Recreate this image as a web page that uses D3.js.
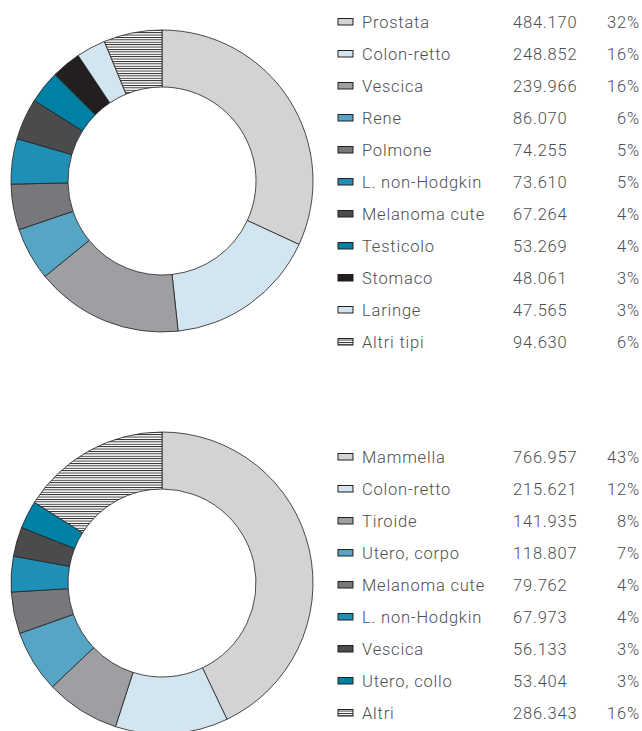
<!DOCTYPE html>
<meta charset="utf-8">
<style>
body {
  margin: 0;
  background-color: #ffffff;
}
.legend text {
  font-family: Roboto, "Open Sans", sans-serif;
  font-size: 16.5px;
  font-weight: 300;
  fill: #4d4e50;
  letter-spacing: 0.8px;
}
.slice {
  stroke: #231f20;
  stroke-width: 0.8px;
}
</style>
<svg width="642" height="731"></svg>
<script src="https://d3js.org/d3.v7.min.js"></script>
<script>
// uomini
var menLabels = ["Prostata", "Colon-retto", "Vescica", "Rene", "Polmone", "L. non-Hodgkin",
                 "Melanoma cute", "Testicolo", "Stomaco", "Laringe", "Altri tipi"];
var menValues = [484170, 248852, 239966, 86070, 74255, 73610, 67264, 53269, 48061, 47565, 94630];
var menValueText = ["484.170", "248.852", "239.966", "86.070", "74.255", "73.610",
                    "67.264", "53.269", "48.061", "47.565", "94.630"];
var menPct = ["32%", "16%", "16%", "6%", "5%", "5%", "4%", "4%", "3%", "3%", "6%"];
var menColors = ["#d1d3d4", "#d2e5f0", "#9d9fa2", "#56a5c5", "#77787b", "#1f8fb6",
                 "#4a4b4d", "#0080a5", "#231f20", "#d2e5f0", "url(#hatch)"];

// donne
var womenLabels = ["Mammella", "Colon-retto", "Tiroide", "Utero, corpo", "Melanoma cute",
                   "L. non-Hodgkin", "Vescica", "Utero, collo", "Altri"];
var womenValues = [766957, 215621, 141935, 118807, 79762, 67973, 56133, 53404, 286343];
var womenValueText = ["766.957", "215.621", "141.935", "118.807", "79.762",
                      "67.973", "56.133", "53.404", "286.343"];
var womenPct = ["43%", "12%", "8%", "7%", "4%", "4%", "3%", "3%", "16%"];
var womenColors = ["#d1d3d4", "#d2e5f0", "#9d9fa2", "#56a5c5", "#77787b",
                   "#1f8fb6", "#4a4b4d", "#0080a5", "url(#hatch)"];

var svg = d3.select("svg");

// horizontal line fill for "Altri"
var pat = svg.append("defs").append("pattern")
    .attr("id", "hatch")
    .attr("patternUnits", "userSpaceOnUse")
    .attr("width", 6)
    .attr("height", 2.4);
pat.append("rect").attr("width", 6).attr("height", 2.4).attr("fill", "#ffffff");
pat.append("rect").attr("y", 0).attr("width", 6).attr("height", 0.9).attr("fill", "#231f20");

var outerR = 151, innerR = 94;
var pie = d3.pie().sort(null);
var arc = d3.arc().innerRadius(innerR).outerRadius(outerR);

function drawChart(cy, labels, values, valueText, pct, colors, legendTop) {
  var data = labels.map(function(l, i) {
    return {label: l, value: values[i], text: valueText[i], pct: pct[i], color: colors[i]};
  });

  var g = svg.append("g")
      .attr("transform", "translate(162," + cy + ")");

  g.selectAll(".slice")
      .data(pie.value(function(d) { return d.value; })(data))
    .enter().append("path")
      .attr("class", "slice")
      .attr("d", arc)
      .attr("fill", function(d) { return d.data.color; });

  var y = d3.scaleBand()
      .domain(labels)
      .range([legendTop, legendTop + labels.length * 32]);

  var rows = svg.append("g").attr("class", "legend")
    .selectAll("g")
      .data(data)
    .enter().append("g")
      .attr("transform", function(d) { return "translate(0," + (y(d.label) + 16) + ")"; });

  rows.append("rect")
      .attr("x", 338)
      .attr("y", -3.5)
      .attr("width", 15)
      .attr("height", 6.5)
      .attr("fill", function(d) { return d.color; })
      .attr("stroke", "#231f20")
      .attr("stroke-width", 1);

  rows.append("text")
      .attr("x", 362)
      .attr("dy", "0.35em")
      .text(function(d) { return d.label; });

  rows.append("text")
      .attr("x", 513)
      .attr("dy", "0.35em")
      .text(function(d) { return d.text; });

  rows.append("text")
      .attr("x", 640)
      .attr("dy", "0.35em")
      .attr("text-anchor", "end")
      .text(function(d) { return d.pct; });
}

drawChart(181, menLabels, menValues, menValueText, menPct, menColors, 6);
drawChart(583, womenLabels, womenValues, womenValueText, womenPct, womenColors, 441);
</script>
